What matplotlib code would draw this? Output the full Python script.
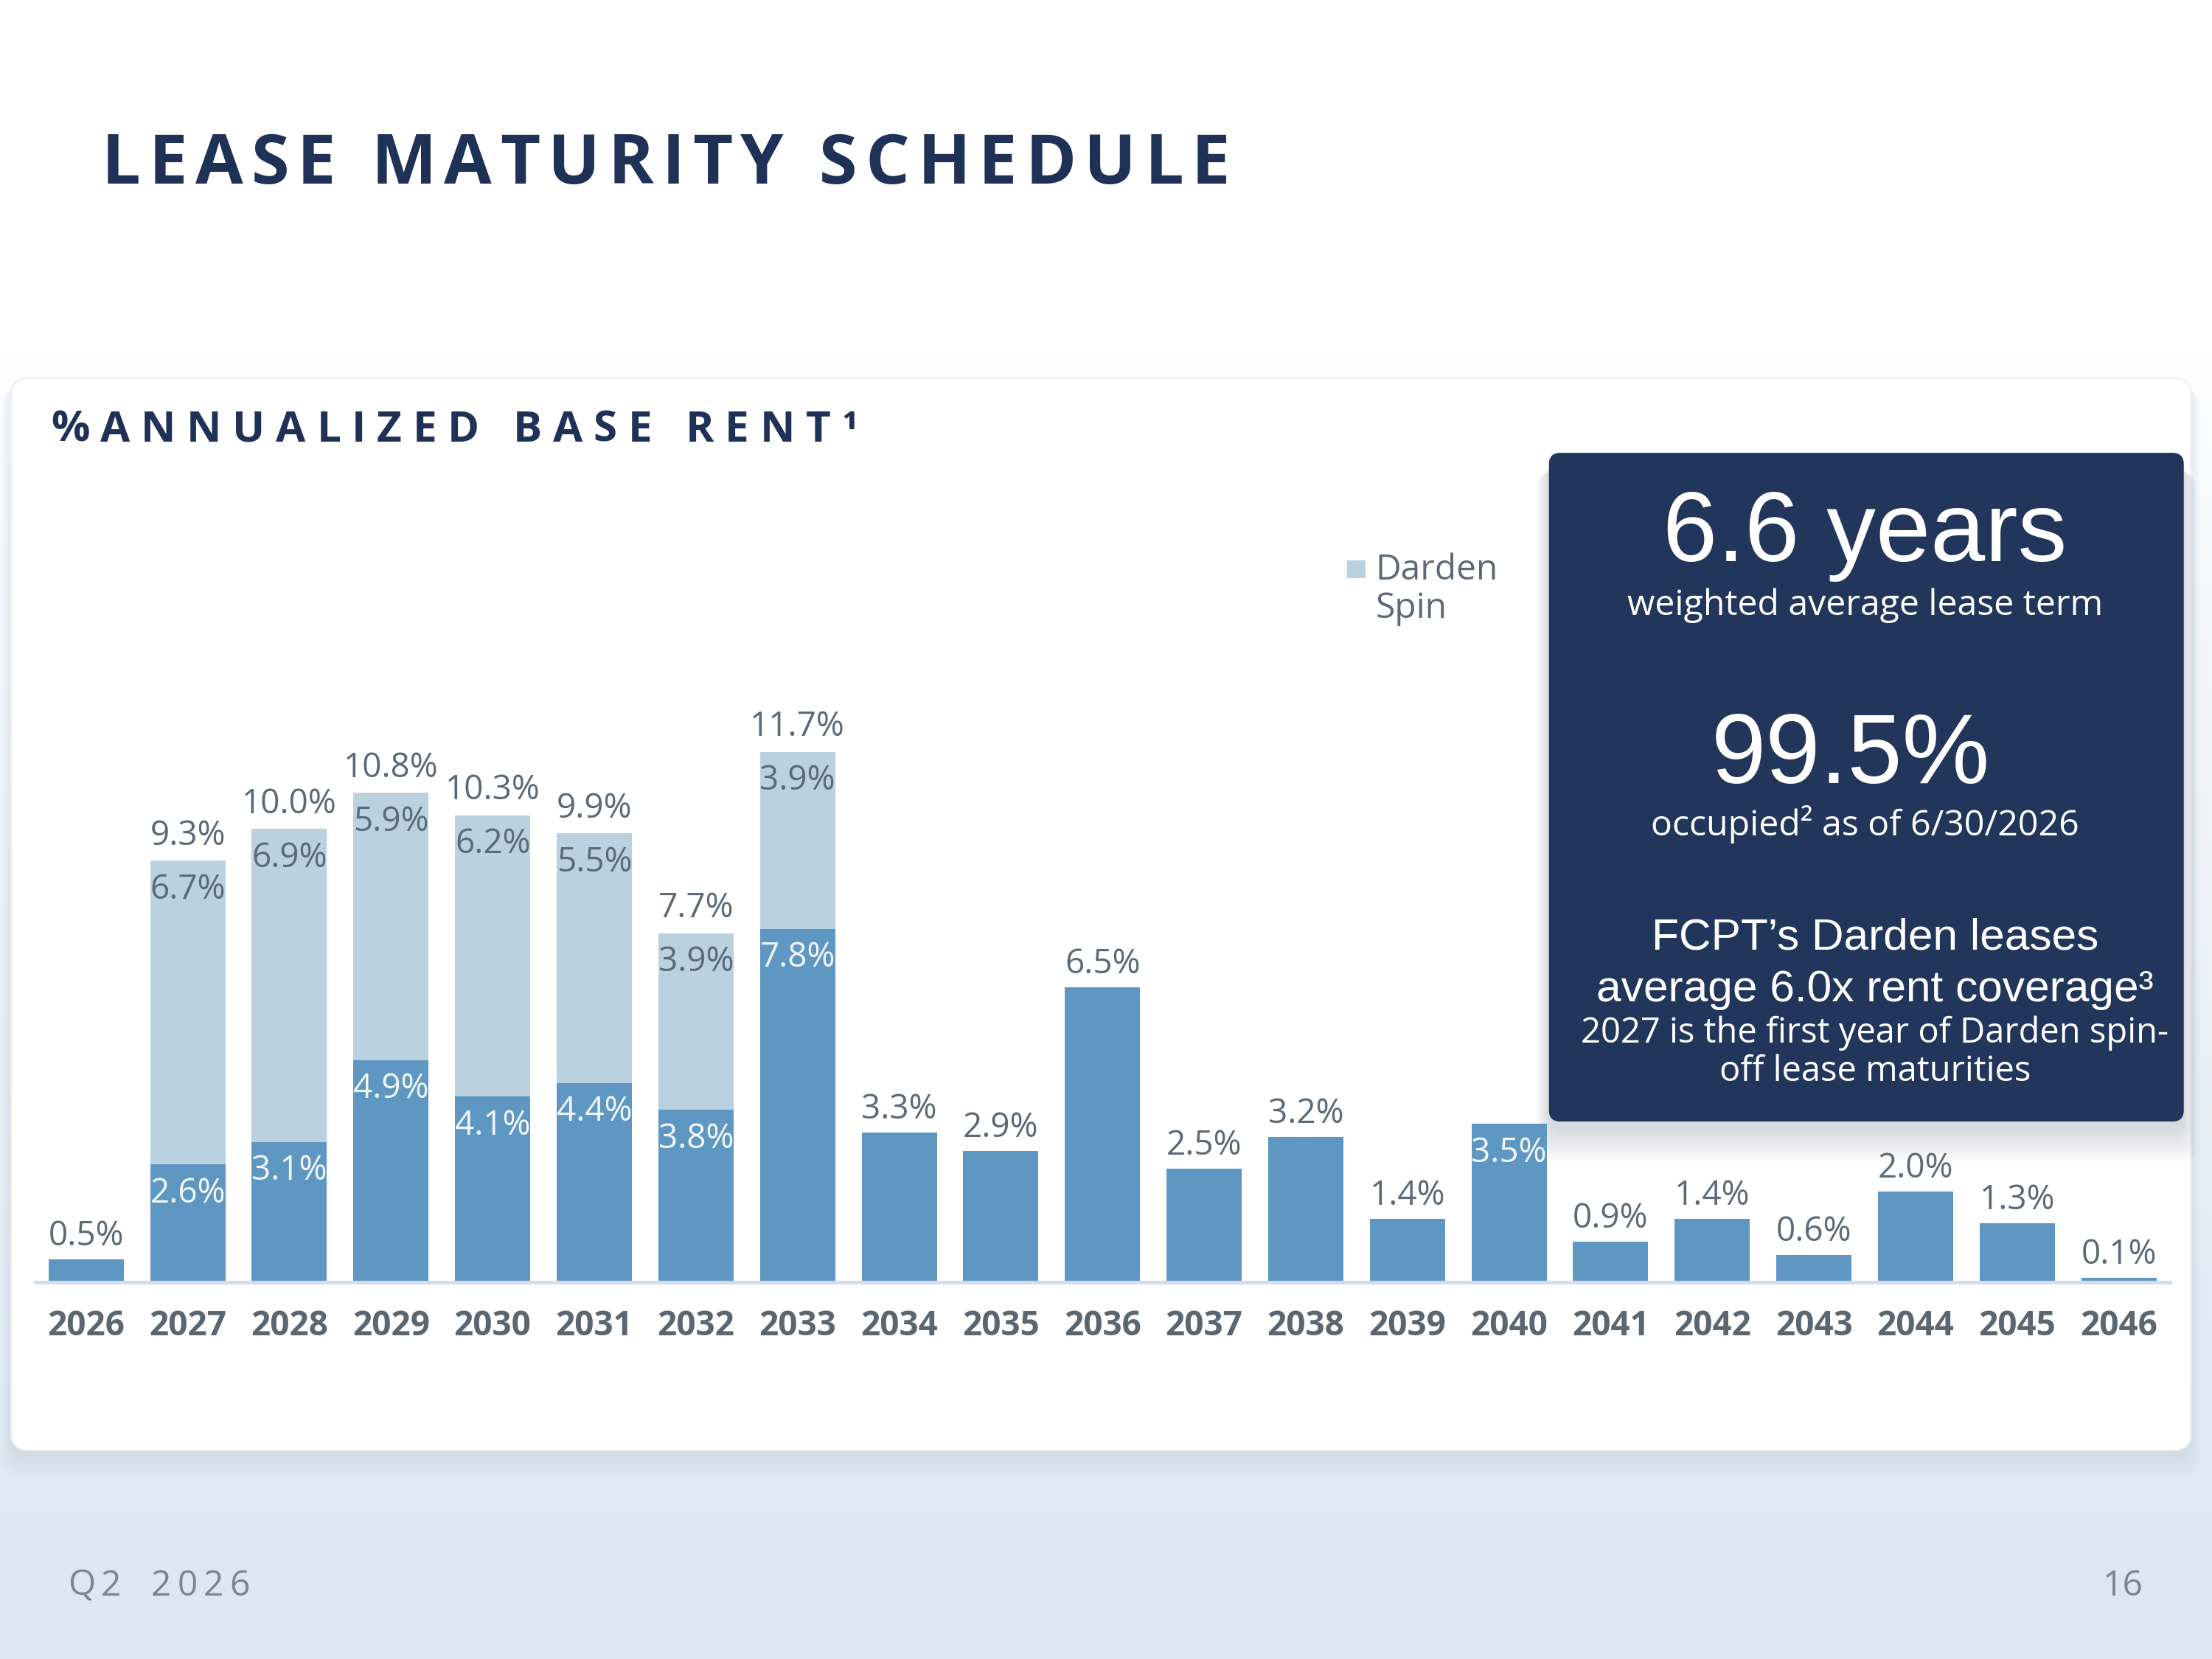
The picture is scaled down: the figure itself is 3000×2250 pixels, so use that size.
import numpy as np
import matplotlib.pyplot as plt
from matplotlib.patches import FancyBboxPatch, Rectangle
from matplotlib.colors import LinearSegmentedColormap

# data
years = [str(y) for y in range(2026, 2047)]
base = [0.5, 2.6, 3.1, 4.9, 4.1, 4.4, 3.8, 7.8, 3.3, 2.9, 6.5,
        2.5, 3.2, 1.4, 3.5, 0.9, 1.4, 0.6, 2.0, 1.3, 0.1]
spin = [0, 6.7, 6.9, 5.9, 6.2, 5.5, 3.9, 3.9, 0, 0, 0,
        0, 0, 0, 0, 0, 0, 0, 0, 0, 0]
inside_base = ['2027', '2028', '2029', '2030', '2031', '2032', '2033', '2040']

NAVY = '#1f3157'
BOX = '#22365c'
DARK = '#5f97c3'
LIGHT = '#bad2e0'
GRAY = '#5d6975'
SANS = 'Open Sans'

W, H = 1568, 1176          # layout grid (slide pixels)
fx = lambda x: x / W
fy = lambda y: 1 - y / H

fig = plt.figure(figsize=(10, 7.5), dpi=300)

# background, card and dark box
bg = fig.add_axes([0, 0, 1, 1], zorder=0)
bg.set_xlim(0, W)
bg.set_ylim(H, 0)
bg.axis('off')
t = np.clip((np.linspace(0, H, 400) - 250) / (H - 250), 0, 1) ** 0.8
cmap = LinearSegmentedColormap.from_list('bgc', ['#ffffff', '#dbe7f1'])
bg.imshow(t[:, None], cmap=cmap, vmin=0, vmax=1, extent=(0, W, H, 0), aspect='auto')

for i in range(8):
    bg.add_patch(FancyBboxPatch((8 - i, 268 + 2 + i * 0.8), 1545 + 2 * i, 760 + i * 1.6,
                                boxstyle='round,pad=0,rounding_size=14',
                                fc='#8090a0', ec='none', alpha=0.018))
bg.add_patch(FancyBboxPatch((8, 268), 1545, 760, boxstyle='round,pad=0,rounding_size=12',
                            fc='white', ec='#eef1f4', lw=0.6))

for i in range(10):
    bg.add_patch(FancyBboxPatch((1098 - i, 321 + 6 + i), 450 + 2 * i, 474 + i * 1.5,
                                boxstyle='round,pad=0,rounding_size=10',
                                fc='#3a4a60', ec='none', alpha=0.02))
bg.add_patch(FancyBboxPatch((1098, 321), 450, 474, boxstyle='round,pad=0,rounding_size=8',
                            fc=BOX, ec='none'))

# legend
bg.add_patch(Rectangle((955, 397), 13, 13, fc=LIGHT, ec='none'))
fig.text(fx(975), fy(438), 'Darden\nSpin', fontsize=11.5, color=GRAY, family=SANS,
         va='baseline', ha='left', linespacing=1.12)


def spaced(s, x0, x1, y, size, color, weight='bold', space=0.28):
    """draw s with letter spacing so that it spans x0..x1 (slide px), baseline y"""
    r = fig.canvas.get_renderer()
    items, widths = [], []
    for c in s:
        if c == ' ':
            items.append(None)
            widths.append(space * size * 300 / 72)
        else:
            tx = fig.text(0, fy(y), c, fontsize=size, color=color, weight=weight,
                          family=SANS, ha='left', va='baseline')
            items.append(tx)
            widths.append(tx.get_window_extent(r).width)
    sc = 3000 / W
    track = ((x1 - x0) * sc - sum(widths)) / (len(s) - 1)
    pos = x0 * sc
    for tx, w in zip(items, widths):
        if tx is not None:
            tx.set_x(pos / 3000)
        pos += w + track


spaced('LEASE MATURITY SCHEDULE', 72, 872, 130, 22.5, NAVY)
spaced('%ANNUALIZED BASE RENT\u00b9', 36, 608, 313, 14, NAVY)
spaced('Q2 2026', 48, 177, 1131, 11.5, '#7b8590', weight='normal', space=0.5)
fig.text(fx(1519), fy(1131), '16', fontsize=11.5, color='#7b8590', family=SANS,
         ha='right', va='baseline')

# box texts
box_lines = [
    ('6.6 years', 1322, 398, 32, 'Liberation Sans'),
    ('weighted average lease term', 1322, 436, 11.6, SANS),
    ('99.5%', 1312, 555, 32, 'Liberation Sans'),
    ('occupied\u00b2 as of 6/30/2026', 1322, 592, 11.6, SANS),
    ('FCPT\u2019s Darden leases', 1329, 673, 14.5, 'Liberation Sans'),
    ('average 6.0x rent coverage\u00b3', 1329, 710, 14.5, 'Liberation Sans'),
    ('2027 is the first year of Darden spin-', 1329, 739, 11.3, SANS),
    ('off lease maturities', 1329, 766, 11.3, SANS),
]
for txt, x, y, s, fam in box_lines:
    fig.text(fx(x), fy(y), txt, fontsize=s, color='white', family=fam,
             ha='center', va='baseline')

# chart
ax = fig.add_axes([fx(25), fy(909), (1538 - 25) / W, (909 - 491.2) / H], zorder=2)
ax.patch.set_alpha(0)
x = np.arange(len(years))
ax.bar(x, base, 0.74, color=DARK, zorder=2)
ax.bar(x, spin, 0.74, bottom=base, color=LIGHT, zorder=2)
ax.set_xlim(-0.5, len(years) - 0.5)
ax.set_ylim(0, 13)
for sp in ['top', 'right', 'left']:
    ax.spines[sp].set_visible(False)
ax.spines['bottom'].set_color('#d3dde8')
ax.spines['bottom'].set_linewidth(1.2)
ax.set_yticks([])
ax.set_xticks(x)
ax.set_xticklabels(years, fontsize=11, weight='bold', color='#5b6670', family=SANS)
ax.tick_params(axis='x', length=0, pad=8.5)

lab = dict(fontsize=11, family=SANS, ha='center', va='center', textcoords='offset points')
for i, yr in enumerate(years):
    b, s = base[i], spin[i]
    if s > 0:
        ax.annotate(f'{b + s:.1f}%', (i, b + s), xytext=(0, 8), color=GRAY, **lab)
        ax.annotate(f'{s:.1f}%', (i, b + s), xytext=(0, -9.5), color='#5a6a78', **lab)
    if yr in inside_base:
        ax.annotate(f'{b:.1f}%', (i, b), xytext=(0, -9.5), color='#f2f6fa', **lab)
    else:
        ax.annotate(f'{b:.1f}%', (i, b), xytext=(0, 7.5), color=GRAY, **lab)

fig.savefig('out.png', dpi=300)
